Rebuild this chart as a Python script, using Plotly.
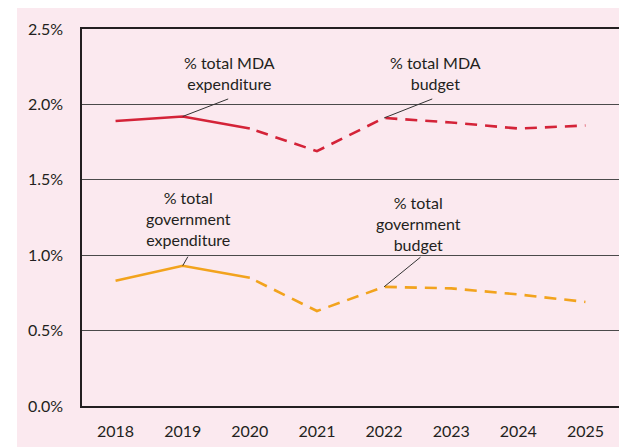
import plotly.graph_objects as go

years = ["2018", "2019", "2020", "2021", "2022", "2023", "2024", "2025"]
mda_share = [1.89, 1.92, 1.84, 1.69, 1.91, 1.88, 1.84, 1.86]
gov_share = [0.83, 0.93, 0.85, 0.63, 0.79, 0.78, 0.74, 0.69]
actual_end = 3  # 2018-2020 are expenditure (solid), 2020-2025 budget (dashed)
y_ticks = [0, 0.5, 1.0, 1.5, 2.0, 2.5]
y_tick_labels = ["0.0%", "0.5%", "1.0%", "1.5%", "2.0%", "2.5%"]

RED = "#d42338"
ORANGE = "#f2a31d"
FONT = "Lato"

fig = go.Figure()


def add_series(vals, color):
    fig.add_trace(go.Scatter(x=years[:actual_end], y=vals[:actual_end], mode="lines",
                             line=dict(color=color, width=2.6), hoverinfo="skip", showlegend=False))
    fig.add_trace(go.Scatter(x=years[actual_end - 1:], y=vals[actual_end - 1:], mode="lines",
                             line=dict(color=color, width=2.6, dash="0px,7px,12px,1px"),
                             hoverinfo="skip", showlegend=False))


add_series(mda_share, RED)
add_series(gov_share, ORANGE)

# Pink background panel
fig.add_shape(type="rect", xref="paper", yref="paper", x0=-0.121, x1=1.05, y0=-0.15, y1=1.06,
              fillcolor="#fbe9ef", line=dict(width=0), layer="below")

labels = [
    ("% total MDA<br>expenditure", 1.70, 2.21),
    ("% total MDA<br>budget", 4.77, 2.21),
    ("% total<br>government<br>expenditure", 1.09, 1.242),
    ("% total<br>government<br>budget", 4.52, 1.21),
]
for txt, x, y in labels:
    fig.add_annotation(x=x, y=y, xref="x", yref="y", text=txt, showarrow=False,
                       font=dict(family=FONT, size=16, color="#231f20"), align="center")

leaders = [
    (1, mda_share, 1.70, 2.04),
    (4, mda_share, 4.74, 2.04),
    (1, gov_share, 1.09, 1.0),
    (4, gov_share, 4.565, 0.995),
]
for i, vals, ax, ay in leaders:
    fig.add_annotation(x=i, y=vals[i], xref="x", yref="y", ax=ax, ay=ay, axref="x", ayref="y",
                       text="", showarrow=True, arrowhead=0, arrowwidth=1, arrowcolor="#333333",
                       standoff=0, startstandoff=0)

fig.update_layout(
    width=619, height=439,
    margin=dict(l=74, r=8, t=21, b=41, autoexpand=False),
    paper_bgcolor="white",
    plot_bgcolor="rgba(0,0,0,0)",
    font=dict(family=FONT, size=16, color="#231f20"),
    showlegend=False,
)
fig.update_xaxes(type="category", range=[-0.5, 7.5], showgrid=False, showline=True,
                 linecolor="#231f20", linewidth=1.5, mirror=True, ticks="", ticklen=0,
                 tickfont=dict(family=FONT, size=16), ticklabelstandoff=10, automargin=False)
fig.update_yaxes(range=[0, 2.5], tickvals=y_ticks, ticktext=y_tick_labels, showgrid=True,
                 gridcolor="#4a4a4a", gridwidth=1, showline=True, linecolor="#231f20",
                 linewidth=1.5, mirror=True, ticks="", zeroline=False,
                 tickfont=dict(family=FONT, size=16), ticklabelstandoff=14, automargin=False)

fig.write_html("out.html")
